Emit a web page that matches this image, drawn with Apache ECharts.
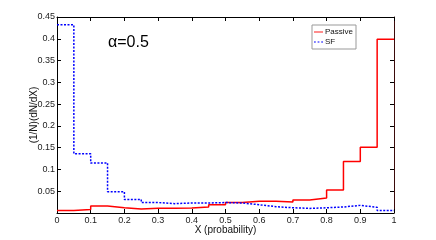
<!DOCTYPE html>
<html><head><meta charset="utf-8">
<script src="https://cdn.jsdelivr.net/npm/echarts@6/dist/echarts.min.js"></script>
<style>html,body{margin:0;padding:0;background:#fff}#c{width:436px;height:240px}</style>
</head><body><div id="c"></div>
<script>
var binEdges = [0,0.05,0.1,0.15,0.2,0.25,0.3,0.35,0.4,0.45,0.5,0.55,0.6,0.65,0.7,0.75,0.8,0.85,0.9,0.95,1];
var passive = [0.006,0.008,0.016,0.012,0.009,0.011,0.011,0.0115,0.014,0.019,0.024,0.027,0.027,0.025,0.030,0.0345,0.053,0.118,0.151,0.399];
var sf = [0.432,0.136,0.115,0.049,0.031,0.024,0.0215,0.023,0.023,0.024,0.023,0.019,0.0145,0.012,0.0106,0.012,0.0138,0.0175,0.013,0.006];
var xTicks = ['0','0.1','0.2','0.3','0.4','0.5','0.6','0.7','0.8','0.9','1'];
var yTicks = ['','0.05','0.1','0.15','0.2','0.25','0.3','0.35','0.4','0.45'];

function stairs(vals){
  var d = [];
  for (var i = 0; i < vals.length; i++) d.push([binEdges[i], vals[i]]);
  d.push([binEdges[binEdges.length-1], vals[vals.length-1]]);
  return d;
}
var font = 'Liberation Sans, Arial, sans-serif';
var chart = echarts.init(document.getElementById('c'));
chart.setOption({
  animation: false,
  grid: {left: 57, right: 42, top: 17, bottom: 27},
  legend: {
    orient: 'vertical', left: 312, top: 25, padding: [3, 3, 3, 2],
    itemWidth: 9, itemHeight: 4, itemGap: 2,
    borderColor: '#999', borderWidth: 1, backgroundColor: '#fff',
    textStyle: {fontFamily: font, fontSize: 8, color: '#111', padding: [0,0,0,-3]},
    data: [{name: 'Passive', icon: 'path://M0,0H10V1H0Z'}, {name: 'SF', icon: 'path://M0,0H2V1H0ZM4,0H6V1H4ZM8,0H10V1H8Z'}]
  },
  graphic: [{type: 'text', left: 108, top: 35, style: {text: 'α=0.5', font: '16px ' + font, fill: '#000'}}],
  xAxis: [{
    type: 'value', min: 0, max: 1, interval: 0.1,
    name: 'X (probability)', nameLocation: 'middle', nameGap: 12, nameMoveOverlap: false,
    nameTextStyle: {fontFamily: font, fontSize: 10, color: '#111'},
    axisLine: {lineStyle: {color: '#000', width: 1}},
    axisTick: {inside: true, length: 4, lineStyle: {color: '#000'}},
    axisLabel: {fontFamily: font, fontSize: 9, color: '#222', margin: 3,
      formatter: function(v){ return xTicks[Math.round(v*10)]; }},
    splitLine: {show: false}
  }, {
    type: 'value', position: 'top', min: 0, max: 1, interval: 0.1,
    axisLine: {show: true, onZero: false, lineStyle: {color: '#000', width: 1}},
    axisTick: {show: true, inside: true, length: 4, lineStyle: {color: '#000'}},
    axisLabel: {show: false}, splitLine: {show: false}
  }],
  yAxis: [{
    type: 'value', min: 0, max: 0.45, interval: 0.05,
    name: '(1/N)(dN/dX)', nameLocation: 'middle', nameGap: 18, nameMoveOverlap: false,
    nameTextStyle: {fontFamily: font, fontSize: 10, color: '#111'},
    axisLine: {show: true, lineStyle: {color: '#000', width: 1}},
    axisTick: {show: true, inside: true, length: 4, lineStyle: {color: '#000'}},
    axisLabel: {fontFamily: font, fontSize: 9, color: '#222', margin: 2,
      formatter: function(v){ return yTicks[Math.round(v*20)]; }},
    splitLine: {show: false}
  }, {
    type: 'value', position: 'right', min: 0, max: 0.45, interval: 0.05,
    axisLine: {show: true, onZero: false, lineStyle: {color: '#3a0a0a', width: 1}},
    axisTick: {show: true, inside: true, length: 4, lineStyle: {color: '#000'}},
    axisLabel: {show: false}, splitLine: {show: false}
  }],
  series: [{
    name: 'Passive', type: 'line', step: 'end', showSymbol: false, symbol: 'none',
    data: stairs(passive), z: 1,
    lineStyle: {color: '#ff0000', width: 1.5}, itemStyle: {color: '#ff0000'}
  }, {
    name: 'SF', type: 'line', step: 'end', showSymbol: false, symbol: 'none',
    data: stairs(sf), z: 1,
    lineStyle: {color: '#0000ff', width: 1.5, type: [2, 1.5]}, itemStyle: {color: '#0000ff'}
  }]
});
</script></body></html>
